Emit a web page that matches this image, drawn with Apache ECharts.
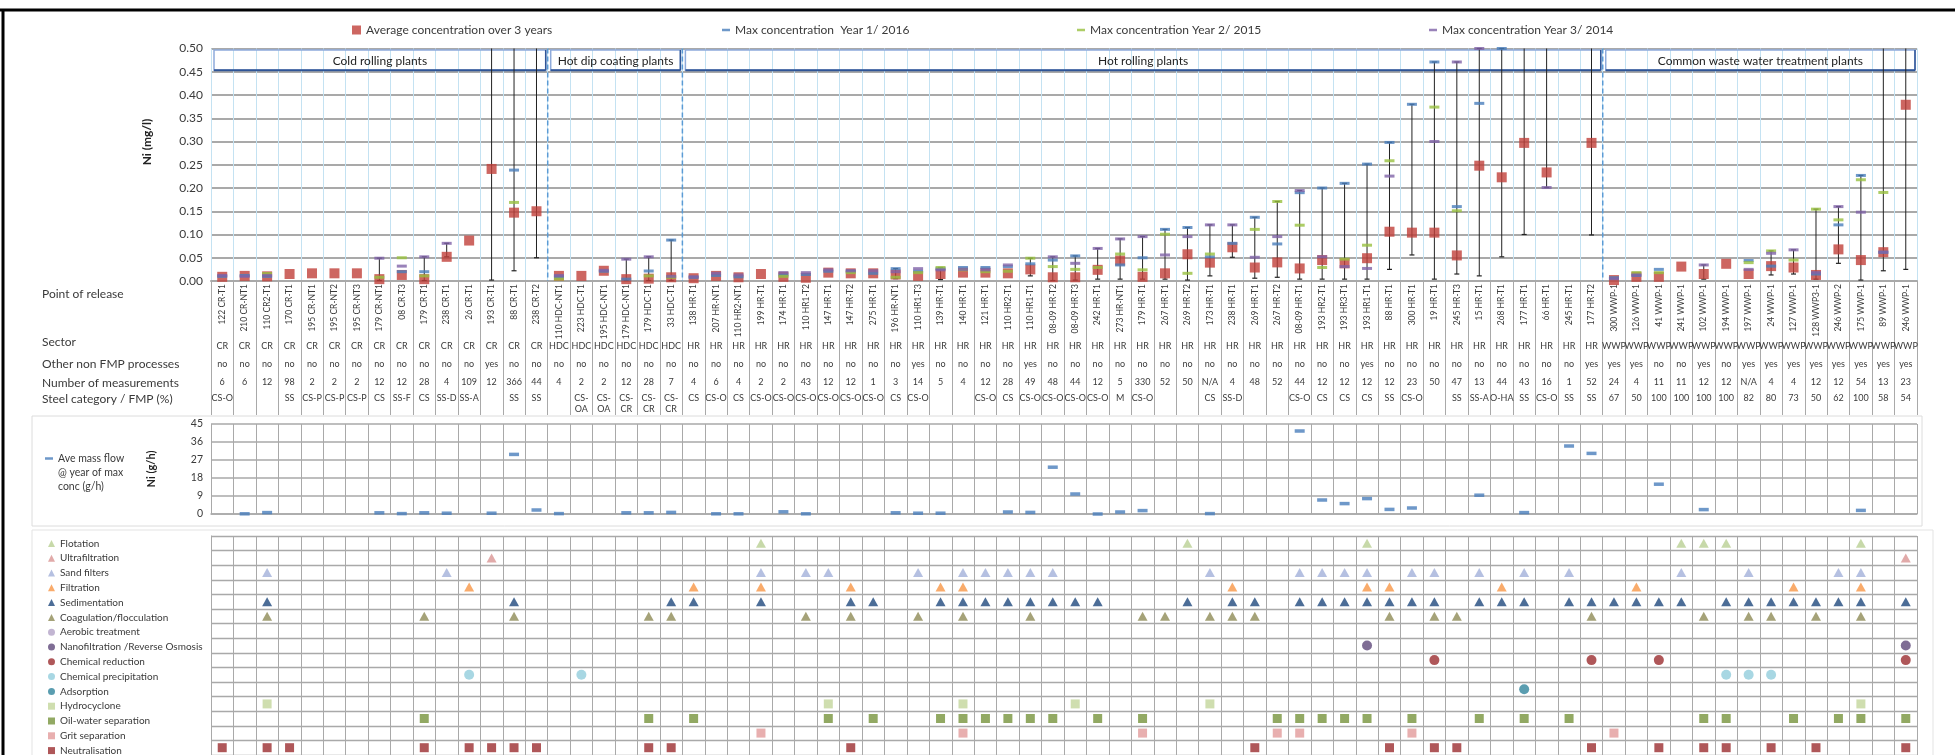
<!DOCTYPE html>
<html>
<head>
<meta charset="utf-8">
<script src="https://cdn.jsdelivr.net/npm/echarts@6/dist/echarts.min.js"></script>
<style>
  html, body { margin: 0; padding: 0; background: #fff; }
  #chart { width: 1955px; height: 755px; }
</style>
</head>
<body>
<div id="chart"></div>
<script>
// ---- Points of release (one column each) ----
const releasePoints = [
  '122 CR-T1','210 CR-NT1','110 CR2-T1','170 CR-T1','195 CR-NT1','195 CR-NT2','195 CR-NT3','179 CR-NT1','08 CR-T3','179 CR-T1','238 CR-T1','26 CR-T1','193 CR-T1','88 CR-T1','238 CR-T2',
  '110 HDC-NT1','223 HDC-T1','195 HDC-NT1','179 HDC-NT1','179 HDC-T1','33 HDC-T1',
  '138 HR-T1','207 HR-NT1','110 HR2-NT1','199 HR-T1','174 HR-T1','110 HR1-T2','147 HR-T1','147 HR-T2','275 HR-T1','196 HR-NT1','110 HR1-T3','139 HR-T1','140 HR-T1','121 HR-T1','110 HR2-T1','110 HR1-T1','08-09 HR-T2','08-09 HR-T3','242 HR-T1','273 HR-NT1','179 HR-T1','267 HR-T1','269 HR-T2','173 HR-T1','238 HR-T1','269 HR-T1','267 HR-T2','08-09 HR-T1','193 HR2-T1','193 HR3-T1','193 HR1-T1','88 HR-T1','300 HR-T1','19 HR-T1','245 HR-T3','15 HR-T1','268 HR-T1','177 HR-T1','66 HR-T1','245 HR-T1','177 HR-T2',
  '300 WWP-1','126 WWP-1','41 WWP-1','241 WWP-1','102 WWP-1','194 WWP-1','197 WWP-1','24 WWP-1','127 WWP-1','128 WWP3-1','246 WWP-2','175 WWP-1','89 WWP-1','246 WWP-1'
];

// Plant groups: [label, first column, last column] (1-based)
const plantGroups = [
  ['Cold rolling plants', 1, 15],
  ['Hot dip coating plants', 16, 21],
  ['Hot rolling plants', 22, 62],
  ['Common waste water treatment plants', 63, 76]
];

// ---- Ni concentration (mg/l) ----
const avgConc = [
  0.009,0.011,0.010,0.015,0.0165,0.0165,0.0165,0.004,0.013,0.004,0.052,0.087,0.241,0.147,0.150,
  0.011,0.011,0.022,0.004,0.005,0.008,
  0.006,0.011,0.008,0.015,0.009,0.007,0.018,0.0165,0.0165,0.014,0.011,0.015,0.018,0.018,0.0165,0.025,0.008,0.008,0.024,0.044,0.009,0.0165,0.0575,0.0395,0.0725,0.029,0.040,0.027,0.045,0.038,0.049,0.106,0.104,0.104,0.055,0.248,0.223,0.297,0.2335,null,0.297,
  0.002,0.009,0.009,0.031,0.015,0.037,0.015,0.032,0.029,0.013,0.068,0.045,0.062,0.379
];
const maxYear1 = [
  0.010,0.012,0.010,null,null,null,null,null,0.020,0.020,null,null,null,0.2385,null,
  0.009,null,0.021,0.004,0.0215,0.088,
  0.008,0.012,0.009,null,0.013,0.014,0.021,0.021,0.0165,0.0266,0.021,0.0266,0.029,0.029,0.031,0.037,0.045,0.054,null,0.0345,0.050,0.111,0.115,0.052,0.081,0.137,0.0797,0.190,0.200,0.210,0.2514,0.298,0.380,0.471,0.160,0.382,0.500,null,null,null,null,
  0.007,0.012,0.025,null,null,null,0.044,0.032,null,0.015,0.1207,0.227,0.0618,null
];
const maxYear2 = [
  null,null,0.016,null,null,null,null,0.008,0.050,0.011,null,null,null,0.169,null,
  0.004,null,null,null,0.011,0.008,
  null,null,null,null,0.010,null,null,0.018,null,0.008,0.018,0.029,0.024,0.020,0.021,0.049,0.031,0.025,0.029,0.058,0.024,0.1006,0.0165,0.058,null,0.111,0.171,0.120,0.029,0.047,0.077,0.2586,null,0.374,0.151,null,null,null,null,null,null,
  null,0.018,0.018,null,null,null,0.0395,0.0647,0.045,0.1545,0.1315,0.2177,0.1904,null
];
const maxYear3 = [
  0.012,0.010,0.012,null,null,null,null,0.049,0.032,0.052,0.081,null,null,null,null,
  0.012,null,0.023,0.047,0.052,0.010,
  0.009,0.0165,0.013,null,0.018,0.018,0.024,0.022,0.022,0.020,0.0266,0.024,0.025,0.024,0.0345,null,0.052,0.038,0.070,0.0905,0.0955,0.056,0.0955,0.1207,0.1207,0.051,0.0955,0.1945,0.052,0.031,0.027,0.2256,null,0.300,0.471,0.500,null,null,0.201,null,null,
  0.005,0.013,null,null,0.0345,null,0.025,0.0596,0.067,0.018,0.160,0.148,0.062,null
];
// Min–max range bars: [column, low, high]; highs of 0.55 run past the top of the axis
const rangeBars = [
  [8,0.001,0.049],[10,0.001,0.052],[11,0.052,0.081],[13,0.002,0.55],[14,0.022,0.55],[15,0.05,0.55],
  [19,0.001,0.047],[20,0.001,0.052],[21,0.001,0.088],
  [31,0.005,0.0266],[33,0.003,0.029],[37,0.011,0.049],[38,0.001,0.052],[39,0.002,0.054],[40,0.004,0.070],
  [41,0.004,0.0905],[42,0.004,0.0955],[43,0.004,0.111],[44,0.002,0.115],[45,0.011,0.1207],[46,0.051,0.1207],
  [47,0.006,0.137],[48,0.008,0.171],[49,0.004,0.1945],[50,0.004,0.200],[51,0.004,0.210],[52,0.004,0.2514],
  [53,0.025,0.298],[54,0.056,0.380],[55,0.004,0.471],[56,0.015,0.471],[57,0.011,0.50],[58,0.052,0.50],
  [59,0.100,0.55],[60,0.201,0.55],[62,0.099,0.55],
  [67,0.004,0.0345],[70,0.013,0.0647],[71,0.015,0.067],[72,0.004,0.1545],[73,0.038,0.160],[74,0.002,0.227],
  [75,0.022,0.55],[76,0.025,0.55]
];

// ---- Table rows ----
const sectors = [
  'CR','CR','CR','CR','CR','CR','CR','CR','CR','CR','CR','CR','CR','CR','CR',
  'HDC','HDC','HDC','HDC','HDC','HDC',
  'HR','HR','HR','HR','HR','HR','HR','HR','HR','HR','HR','HR','HR','HR','HR','HR','HR','HR','HR','HR','HR','HR','HR','HR','HR','HR','HR','HR','HR','HR','HR','HR','HR','HR','HR','HR','HR','HR','HR','HR','HR',
  'WWP','WWP','WWP','WWP','WWP','WWP','WWP','WWP','WWP','WWP','WWP','WWP','WWP','WWP'
];
const otherProcesses = [
  'no','no','no','no','no','no','no','no','no','no','no','no','yes','no','no',
  'no','no','no','no','no','no',
  'no','no','no','no','no','no','no','no','no','no','yes','no','no','no','no','yes','no','no','no','no','no','no','no','no','no','no','no','no','no','no','yes','no','no','no','no','no','no','no','no','no','yes',
  'yes','yes','no','no','yes','no','yes','yes','yes','yes','yes','yes','yes','yes'
];
const measurements = [
  6,6,12,98,2,2,2,12,12,28,4,109,12,366,44,
  4,2,2,12,28,7,
  4,6,4,2,2,43,12,12,1,3,14,5,4,12,28,49,48,44,12,5,330,52,50,'N/A',4,48,52,44,12,12,12,12,23,50,47,13,44,43,16,1,52,
  24,4,11,11,12,12,'N/A',4,4,12,12,54,13,23
];
const steelCategory = [
  'CS-O','','','SS','CS-P','CS-P','CS-P','CS','SS-F','CS','SS-D','SS-A','','SS','SS',
  '','CS-\nOA','CS-\nOA','CS-\nCR','CS-\nCR','CS-\nCR',
  'CS','CS-O','CS','CS-O','CS-O','CS-O','CS-O','CS-O','CS-O','CS','CS-O','','','CS-O','CS','CS-O','CS-O','CS-O','CS-O','M','CS-O','','','CS','SS-D','','','CS-O','CS','CS','CS','SS','CS-O','','SS','SS-A','O-HA','SS','CS-O','SS','SS',
  '67','50','100','100','100','100','82','80','73','50','62','100','58','54'
];

// ---- Ni mass flow (g/h) in the year of max concentration ----
const massFlow = [
  null,0.1,0.7,null,null,null,null,0.6,0.2,0.6,0.4,null,0.4,29.8,2.0,
  0.2,null,null,0.6,0.6,0.8,
  null,0.1,0.1,null,1.1,0.1,null,null,null,0.6,0.4,0.4,null,null,1.0,0.8,23.4,10.0,0.0,1.0,1.7,null,null,0.2,null,null,null,41.5,7.0,5.2,7.7,2.3,3.0,null,null,9.4,null,0.7,null,34.0,30.3,
  null,null,14.9,null,2.2,null,null,null,null,null,null,1.8,null,null
];

// ---- Treatment techniques: columns (1-based) where each is applied ----
const flotation = [25,44,52,66,67,68,74];
const ultrafiltration = [13,76];
const sandFilters = [3,11,25,27,28,32,34,35,36,37,38,45,49,50,51,52,54,55,57,59,61,66,69,73,74];
const filtration = [12,22,25,29,33,34,46,52,53,58,64,71,74];
const sedimentation = [3,14,21,22,25,29,30,33,34,35,36,37,38,39,40,44,46,47,49,50,51,52,53,54,55,57,58,59,61,62,63,64,65,66,68,69,70,71,72,73,74,76];
const coagulation = [3,10,14,20,21,27,29,32,34,37,42,43,45,46,47,53,55,56,62,67,69,70,72,74];
const aerobicTreatment = [];
const nanofiltration = [52,76];
const chemicalReduction = [55,62,65,76];
const chemicalPrecipitation = [12,17,68,69,70];
const adsorption = [59];
const hydrocyclone = [3,28,34,39,45,74];
const oilWaterSeparation = [10,20,22,28,30,33,34,35,36,37,38,40,42,48,49,50,51,52,54,57,59,61,67,68,71,73,74,76];
const gritSeparation = [25,34,42,48,49,54,63];
const neutralisation = [1,3,4,10,12,13,14,15,20,21,29,47,53,55,56,62,65,67,68,70,72,76];

const techniqueNames = ['Flotation','Ultrafiltration','Sand filters','Filtration','Sedimentation','Coagulation/flocculation','Aerobic treatment','Nanofiltration /Reverse Osmosis','Chemical reduction','Chemical precipitation','Adsorption','Hydrocyclone','Oil-water separation','Grit separation','Neutralisation'];
const techniqueColumns = [flotation, ultrafiltration, sandFilters, filtration, sedimentation, coagulation, aerobicTreatment, nanofiltration, chemicalReduction, chemicalPrecipitation, adsorption, hydrocyclone, oilWaterSeparation, gritSeparation, neutralisation];
const techniqueSymbols = ['triangle','triangle','triangle','triangle','triangle','triangle','circle','circle','circle','circle','circle','rect','rect','rect','rect'];
const techniqueColors = ['#b9cf93','#d99594','#a3b0da','#f79646','#1f497d','#8f8b56','#b3a2c7','#5f497a','#9b2d30','#92cddc','#31859c','#c3d69b','#77933c','#e29b9b','#9b2d30'];

// ---- Names used in legends ----
const AVG_NAME = 'Average concentration over 3 years';
const Y1_NAME = 'Max concentration  Year 1/ 2016';
const Y2_NAME = 'Max concentration Year 2/ 2015';
const Y3_NAME = 'Max concentration Year 3/ 2014';
const FLOW_NAME = 'Ave mass flow @ year of max conc (g/h)';

const FONT = 'Lato, "Open Sans", sans-serif';
const TXT = '#3a3a3a';
const GRID_GRAY = '#a9a9a9';
const ROW_H = 14.8;          // height of one treatment row
const TECH_TOP = 536;        // top of the treatment grid

const chart = echarts.init(document.getElementById('chart'), null, { renderer: 'canvas' });

const toPoints = arr => arr.map((v, i) => [i, v]).filter(p => p[1] !== null);

function tableRowAxis(values, offset, lineHeight) {
  return {
    gridIndex: 0, type: 'category', position: 'bottom', offset: offset,
    data: releasePoints,
    axisLine: { show: false }, axisTick: { show: false }, splitLine: { show: false },
    axisLabel: {
      interval: 0, margin: 0, fontSize: 9, lineHeight: lineHeight || 12, color: TXT,
      formatter: (v, i) => String(values[i])
    }
  };
}

const series = [
  // plant-group header boxes across the top of the concentration panel
  {
    type: 'custom', xAxisIndex: 0, yAxisIndex: 0, z: 1, silent: true,
    data: plantGroups.map(g => [g[1] - 1, g[2] - 1]),
    renderItem(params, api) {
      const bw = api.size([1, 0])[0];
      const l = api.coord([api.value(0), 0.5])[0] - bw / 2 + 3;
      const r = api.coord([api.value(1), 0.5])[0] + bw / 2 - 2;
      const t = api.coord([0, 0.5])[1] + 1.5;
      const b = api.coord([0, 0.453])[1];
      return {
        type: 'group',
        children: [
          { type: 'rect', shape: { x: l, y: t, width: r - l, height: b - t }, style: { fill: 'none', stroke: '#8eaadb', lineWidth: 1.5 } },
          { type: 'line', shape: { x1: l, y1: b, x2: r, y2: b }, style: { stroke: '#2f5597', lineWidth: 2 } },
          { type: 'line', shape: { x1: r, y1: t, x2: r, y2: b }, style: { stroke: '#2f5597', lineWidth: 1.5 } },
          { type: 'text', x: (l + r) / 2, y: (t + b) / 2 + 1, style: { text: plantGroups[params.dataIndex][0], align: 'center', verticalAlign: 'middle', font: '12px ' + FONT, fill: '#222' } }
        ]
      };
    }
  },
  // dashed separators between plant groups
  {
    type: 'custom', xAxisIndex: 0, yAxisIndex: 0, z: 1, silent: true,
    data: plantGroups.slice(1).map(g => [g[1] - 1, 0]),
    renderItem(params, api) {
      const bw = api.size([1, 0])[0];
      const x = api.coord([api.value(0), 0])[0] - bw / 2;
      const y0 = api.coord([0, 0.5])[1];
      const y1 = api.coord([0, 0])[1];
      return { type: 'line', shape: { x1: x, y1: y0, x2: x, y2: y1 }, style: { stroke: '#5b9bd5', lineWidth: 1.5, lineDash: [5, 3] } };
    }
  },
  // min–max range bars
  {
    type: 'custom', xAxisIndex: 0, yAxisIndex: 0, z: 2, silent: true,
    encode: { x: 0, y: [1, 2] },
    data: rangeBars.map(r => [r[0] - 1, r[1], r[2]]),
    renderItem(params, api) {
      const top = params.coordSys.y;
      const lo = api.coord([api.value(0), api.value(1)]);
      const hi = api.coord([api.value(0), api.value(2)]);
      const clipped = hi[1] < top;
      const yHi = Math.max(hi[1], top);
      const x = lo[0];
      const children = [
        { type: 'line', shape: { x1: x, y1: lo[1], x2: x, y2: yHi }, style: { stroke: '#222', lineWidth: 1 } },
        { type: 'line', shape: { x1: x - 2.5, y1: lo[1], x2: x + 2.5, y2: lo[1] }, style: { stroke: '#222', lineWidth: 1.2 } }
      ];
      if (!clipped) children.push({ type: 'line', shape: { x1: x - 2.5, y1: yHi, x2: x + 2.5, y2: yHi }, style: { stroke: '#222', lineWidth: 1.2 } });
      return { type: 'group', children };
    }
  },
  {
    name: AVG_NAME, type: 'scatter', xAxisIndex: 0, yAxisIndex: 0, z: 3,
    symbol: 'rect', symbolSize: 10, itemStyle: { color: '#c0403a' },
    data: toPoints(avgConc)
  },
  {
    name: Y1_NAME, type: 'scatter', xAxisIndex: 0, yAxisIndex: 0, z: 4,
    symbol: 'rect', symbolSize: [10, 3], itemStyle: { color: '#4a7ebb' },
    data: toPoints(maxYear1)
  },
  {
    name: Y2_NAME, type: 'scatter', xAxisIndex: 0, yAxisIndex: 0, z: 4,
    symbol: 'rect', symbolSize: [10, 3], itemStyle: { color: '#98c040' },
    data: toPoints(maxYear2)
  },
  {
    name: Y3_NAME, type: 'scatter', xAxisIndex: 0, yAxisIndex: 0, z: 4,
    symbol: 'rect', symbolSize: [10, 3], itemStyle: { color: '#7f63a8' },
    data: toPoints(maxYear3)
  },
  {
    name: FLOW_NAME, type: 'scatter', xAxisIndex: 5, yAxisIndex: 1, z: 4,
    symbol: 'rect', symbolSize: [10, 3.5], itemStyle: { color: '#4a7ebb' },
    data: toPoints(massFlow)
  }
];

techniqueNames.forEach((name, row) => {
  const sym = techniqueSymbols[row];
  series.push({
    name: name, type: 'scatter', xAxisIndex: 6, yAxisIndex: 2, z: 4,
    symbol: sym,
    symbolSize: sym === 'triangle' ? [10, 9] : (sym === 'circle' ? 10 : 9),
    itemStyle: { color: techniqueColors[row] },
    data: techniqueColumns[row].map(c => [c - 1, row])
  });
});

const legendBase = { padding: 0, itemGap: 5, textStyle: { fontSize: 12, color: TXT, fontFamily: FONT } };

const option = {
  animation: false,
  textStyle: { fontFamily: FONT },
  grid: [
    { left: 211, top: 48.5, width: 1706, height: 232.5 },
    { left: 211, top: 424, width: 1706, height: 90 },
    { left: 211, top: TECH_TOP, width: 1706, height: ROW_H * 15 },
    { left: 211, top: 281, width: 1706, height: 134 }
  ],
  xAxis: [
    {
      gridIndex: 0, type: 'category', data: releasePoints,
      axisLine: { lineStyle: { color: GRID_GRAY, width: 2 } },
      axisTick: { show: false },
      axisLabel: { interval: 0, rotate: 90, fontSize: 8.5, margin: 3, color: TXT },
      splitLine: { show: true, interval: 0, lineStyle: { color: '#c4e2f2', width: 1 } }
    },
    tableRowAxis(sectors, 59.5),
    tableRowAxis(otherProcesses, 77.5),
    tableRowAxis(measurements, 95.5),
    tableRowAxis(steelCategory, 111.5, 11),
    {
      gridIndex: 1, type: 'category', data: releasePoints,
      axisLine: { lineStyle: { color: GRID_GRAY, width: 1.5 } }, axisTick: { show: false }, axisLabel: { show: false },
      splitLine: { show: true, interval: 0, lineStyle: { color: GRID_GRAY, width: 1 } }
    },
    {
      gridIndex: 2, type: 'category', data: releasePoints,
      axisLine: { show: false }, axisTick: { show: false }, axisLabel: { show: false },
      splitLine: { show: true, interval: 0, lineStyle: { color: GRID_GRAY, width: 1 } }
    },
    {
      gridIndex: 3, type: 'category', data: releasePoints,
      axisLine: { show: false }, axisTick: { show: false }, axisLabel: { show: false },
      splitLine: { show: true, interval: 0, lineStyle: { color: GRID_GRAY, width: 1 } }
    }
  ],
  yAxis: [
    {
      gridIndex: 0, type: 'value', min: 0, max: 0.5, interval: 0.05,
      axisLine: { show: false }, axisTick: { show: false },
      axisLabel: { fontSize: 12, color: TXT, margin: 8, formatter: v => v.toFixed(2) },
      splitLine: { lineStyle: { color: GRID_GRAY, width: 2 } }
    },
    {
      gridIndex: 1, type: 'value', min: 0, max: 45, interval: 9,
      name: 'Ni (g/h)', nameLocation: 'middle', nameGap: 54,
      nameTextStyle: { fontSize: 11, fontWeight: 'bold', color: '#222' },
      axisLine: { show: false }, axisTick: { show: false },
      axisLabel: { fontSize: 10.5, color: TXT, margin: 8 },
      splitLine: { lineStyle: { color: GRID_GRAY, width: 1.5 } }
    },
    {
      gridIndex: 2, type: 'category', data: techniqueNames, inverse: true,
      axisLine: { lineStyle: { color: GRID_GRAY } }, axisTick: { show: false }, axisLabel: { show: false },
      splitLine: { show: true, interval: 0, lineStyle: { color: GRID_GRAY, width: 1.3 } }
    },
    { gridIndex: 3, type: 'value', show: false, splitLine: { show: false } }
  ],
  legend: [
    Object.assign({}, legendBase, { data: [AVG_NAME], left: 352, top: 24, icon: 'rect', itemWidth: 9, itemHeight: 9 }),
    Object.assign({}, legendBase, { data: [Y1_NAME], left: 722, top: 24, icon: 'rect', itemWidth: 8, itemHeight: 2.5 }),
    Object.assign({}, legendBase, { data: [Y2_NAME], left: 1077, top: 24, icon: 'rect', itemWidth: 8, itemHeight: 2.5 }),
    Object.assign({}, legendBase, { data: [Y3_NAME], left: 1429, top: 24, icon: 'rect', itemWidth: 8, itemHeight: 2.5 }),
    {
      data: [FLOW_NAME], left: 45, top: 452, padding: 0,
      icon: 'path://M0,0L0.01,0L0,0.01Z M0,6.6L10,6.6L10,9.7L0,9.7Z M0,52.5L0.01,52.5L0,52.49Z',
      itemWidth: 8, itemHeight: 42,
      formatter: () => 'Ave mass flow\n@ year of max\nconc (g/h)',
      textStyle: { fontSize: 10.5, lineHeight: 14, color: TXT, fontFamily: FONT }
    },
    {
      data: techniqueNames.map((n, i) => ({ name: n, icon: techniqueSymbols[i] })),
      orient: 'vertical', left: 48, top: TECH_TOP, height: ROW_H * 15 + 20,
      padding: 0, itemGap: 0, itemWidth: 7, itemHeight: 7,
      textStyle: { fontSize: 10, lineHeight: ROW_H, color: TXT, fontFamily: FONT }
    }
  ],
  graphic: [
    { type: 'line', silent: true, shape: { x1: 0, y1: 10, x2: 1955, y2: 10 }, style: { stroke: '#000', lineWidth: 3 } },
    { type: 'line', silent: true, shape: { x1: 3, y1: 9, x2: 3, y2: 755 }, style: { stroke: '#000', lineWidth: 3 } },
    { type: 'rect', silent: true, shape: { x: 32, y: 416, width: 1890, height: 110 }, style: { fill: 'none', stroke: '#dcdcdc', lineWidth: 1 } },
    { type: 'rect', silent: true, shape: { x: 32, y: 530, width: 1901, height: 240 }, style: { fill: 'none', stroke: '#e3e3e3', lineWidth: 1 } },
    { type: 'text', silent: true, x: 147, y: 142, rotation: Math.PI / 2, style: { text: 'Ni (mg/l)', align: 'center', verticalAlign: 'middle', font: 'bold 12px ' + FONT, fill: '#222' } },
    { type: 'text', silent: true, x: 42, y: 294, style: { text: 'Point of release', verticalAlign: 'middle', font: '12px ' + FONT, fill: TXT } },
    { type: 'text', silent: true, x: 42, y: 342, style: { text: 'Sector', verticalAlign: 'middle', font: '12px ' + FONT, fill: TXT } },
    { type: 'text', silent: true, x: 42, y: 364.5, style: { text: 'Other non FMP processes', verticalAlign: 'middle', font: '12px ' + FONT, fill: TXT } },
    { type: 'text', silent: true, x: 42, y: 383.5, style: { text: 'Number of measurements', verticalAlign: 'middle', font: '12px ' + FONT, fill: TXT } },
    { type: 'text', silent: true, x: 42, y: 399.5, style: { text: 'Steel category / FMP (%)', verticalAlign: 'middle', font: '12px ' + FONT, fill: TXT } }
  ],
  series: series
};

chart.setOption(option);
</script>
</body>
</html>
